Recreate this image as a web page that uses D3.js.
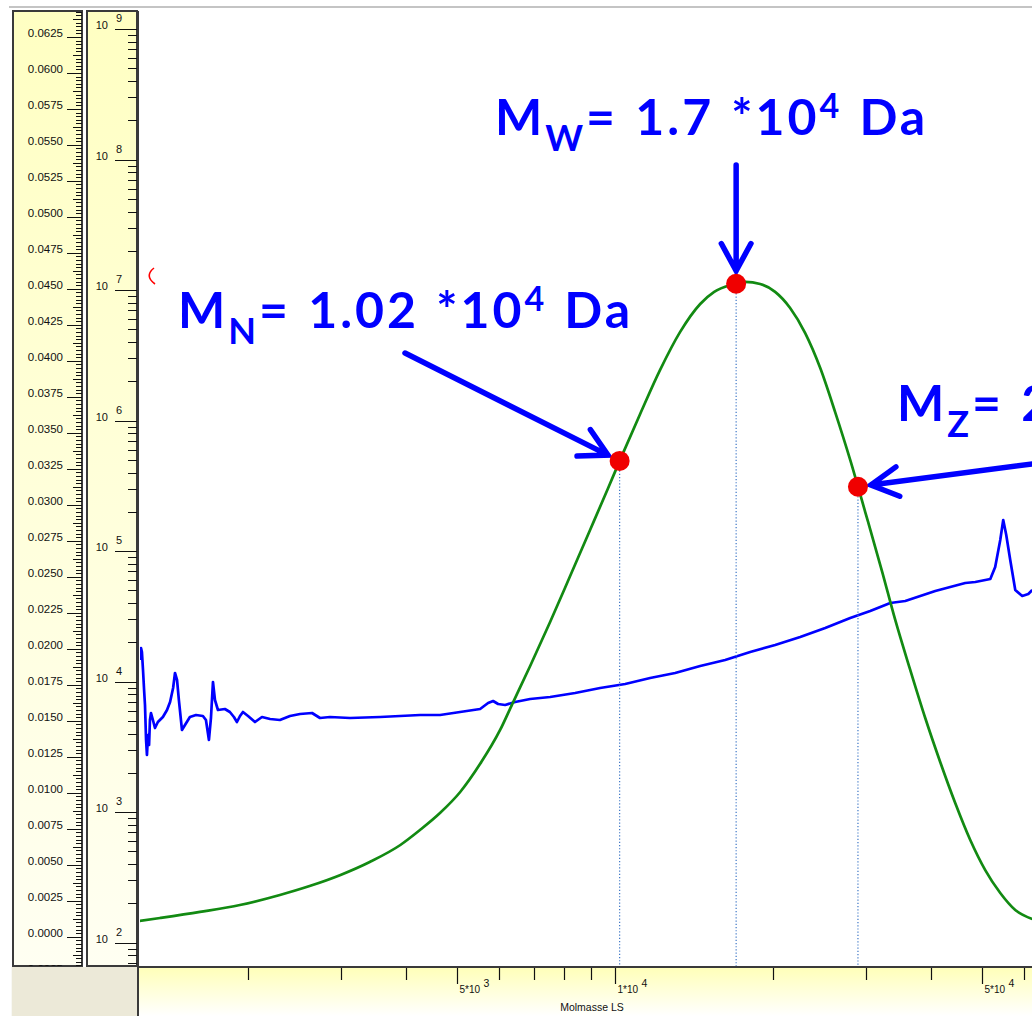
<!DOCTYPE html>
<html>
<head>
<meta charset="utf-8">
<script src="https://cdn.jsdelivr.net/npm/d3@7"></script>
<style>
  html, body { margin: 0; padding: 0; background: #fff; }
  svg { display: block; }
</style>
</head>
<body>
<svg id="chart" width="1032" height="1016"></svg>
<script>
// ---- distribution curve (green): molar mass [Da] vs. weight fraction ----
const distMass = [1240, 1360, 1620, 1930, 2300, 2620, 3000, 3410, 3900, 4250, 4640, 5070, 5530, 6040, 6370,
  6890, 7520, 8210, 8960, 9700, 10220, 11160, 12180, 13300, 14520, 15440, 16560, 17690,
  18890, 20170, 21540, 23010, 24580, 26240, 28030, 29940, 32260, 34150, 36470, 38950, 41590, 44420,
  47450, 50670, 54120, 57800, 62270];
const distFraction = [0.00109, 0.00130, 0.00172, 0.00220, 0.00290, 0.00352, 0.00429, 0.00519, 0.00637,
  0.00741, 0.00859, 0.01005, 0.01199, 0.01436, 0.01616, 0.01880, 0.02186, 0.02505, 0.02825, 0.03117,
  0.03312, 0.03631, 0.03937, 0.04201, 0.04395, 0.04479, 0.04527, 0.04548,
  0.04534, 0.04479, 0.04367, 0.04193, 0.03950, 0.03644, 0.03312, 0.02950, 0.02533, 0.02200, 0.01853,
  0.01519, 0.01214, 0.00929, 0.00672, 0.00463, 0.00304, 0.00186, 0.00123];

// ---- light-scattering molar mass trace (blue) ----
const lsMass = [1245, 1251, 1256, 1262, 1268, 1273, 1279, 1284, 1290, 1296, 1301, 1307, 1318, 1330, 1347,
  1377, 1402, 1421, 1440, 1452, 1465, 1477, 1497, 1517, 1550, 1592, 1641, 1663, 1685, 1700, 1715, 1730,
  1753, 1807, 1847, 1880, 1905, 1931, 1956, 2000, 2062, 2126, 2203, 2300, 2404, 2512, 2648, 2742, 2865,
  3128, 3568, 3895, 4253, 4642, 5067, 5533, 5730, 5857, 5987, 6174, 6450, 6890, 7520, 8391, 9364, 10450,
  11660, 13010, 14520, 16200, 18080, 20170, 22510, 25120, 28030, 30600, 33410, 35680, 38110, 40700,
  43460, 46420, 48510, 51810, 52930, 54120, 54830, 55560, 56540, 57800, 59600, 61200, 62270];
const lsMolarMass = [14670, 18130, 16890, 12290, 8640, 6630, 3576, 2744, 3905, 3273, 5087, 5758, 5087, 4418,
  4911, 5364, 6070, 6990, 8946, 11660, 10310, 7240, 4266, 4659, 5364, 5557, 5460, 5087, 3576, 5271, 9950,
  7240, 6070, 6178, 5859, 5364, 4911, 5460, 5859, 5460, 4911, 5364, 5178, 5087, 5460, 5655, 5758, 5271,
  5364, 5271, 5364, 5460, 5557, 5557, 5859, 6178, 6866, 7114, 6746, 6630, 6990, 7369, 7635, 8194, 8946,
  9603, 10680, 11660, 13190, 14670, 16890, 19110, 22000, 25790, 30760, 34820, 40110, 41530, 45360,
  49550, 53180, 57060, 58070, 61240, 75680, 121900, 173400, 133100, 85620, 50430, 45360, 46990, 50430];

// ---- molar mass averages ----
const avgNames = ["N", "W", "Z"];
const avgValues = [1.02e4, 1.7e4, 2.9e4];

// ---- axis ticks ----
const massTicks = [2000, 3000, 4000, 5000, 6000, 7000, 8000, 9000, 10000, 20000, 30000, 40000, 50000, 60000];
const massTickLabels = [5000, 10000, 50000];
const logDecades = [1, 2, 3, 4, 5, 6, 7, 8, 9];
const xAxisTitle = "Molmasse LS";

// ---- layout ----
const W = 1032, H = 1016;
const plot = { left: 139, right: 1032, top: 10, bottom: 966 };
const svg = d3.select("#chart");
const FONT_SMALL = "'Liberation Sans', Arial, sans-serif";
const FONT_NOTE = "Lato, 'Open Sans', sans-serif";

const x = d3.scaleLog().domain([1240, 62200]).range([plot.left, plot.right]);
const yFrac = d3.scaleLinear().domain([-0.002035, 0.06437]).range([plot.bottom, plot.top]);
const yLog = d3.scaleLog().domain([66.3, 1.403e9]).range([plot.bottom, plot.top]);

const defs = svg.append("defs");
const gv = defs.append("linearGradient").attr("id", "panelV").attr("x1", 0).attr("y1", 0).attr("x2", 0).attr("y2", 1);
gv.append("stop").attr("offset", 0).attr("stop-color", "#ffffc2");
gv.append("stop").attr("offset", 1).attr("stop-color", "#fffff2");
const gb = defs.append("linearGradient").attr("id", "panelB").attr("x1", 0).attr("y1", 0).attr("x2", 0).attr("y2", 1);
gb.append("stop").attr("offset", 0).attr("stop-color", "#ffffb8");
gb.append("stop").attr("offset", 1).attr("stop-color", "#ffffff");
defs.append("clipPath").attr("id", "clipPlot").append("rect")
  .attr("x", plot.left + 1).attr("y", plot.top).attr("width", plot.right - plot.left).attr("height", plot.bottom - plot.top);
defs.append("clipPath").attr("id", "clipLeft").append("rect")
  .attr("x", 13).attr("y", 11).attr("width", 70).attr("height", 955);
defs.append("clipPath").attr("id", "clipLog").append("rect")
  .attr("x", 87).attr("y", 11).attr("width", 50).attr("height", 955);

// window chrome
svg.append("rect").attr("width", W).attr("height", H).attr("fill", "#fff");
svg.append("line").attr("x1", 9).attr("x2", W).attr("y1", 7).attr("y2", 7)
  .attr("stroke", "#c4c4c4").attr("stroke-width", 2);
svg.append("rect").attr("x", 11).attr("y", 967).attr("width", 127).attr("height", 49).attr("fill", "#ece9d8");
svg.append("line").attr("x1", 11.5).attr("x2", 11.5).attr("y1", 967).attr("y2", H).attr("stroke", "#f8f8f4");

// ---- left linear axis panel (weight fraction) ----
const leftG = svg.append("g");
leftG.append("rect").attr("x", 13).attr("y", 11).attr("width", 69).attr("height", 955)
  .attr("fill", "url(#panelV)").attr("stroke", "#3a3a3a").attr("stroke-width", 2);
const leftTicks = leftG.append("g").attr("clip-path", "url(#clipLeft)");
d3.range(-10, 259).forEach(k => {
  const v = k * 0.00025;
  const yy = Math.round(yFrac(v)) + 0.5;
  const major = k % 10 === 0, mid = k % 5 === 0;
  leftTicks.append("line")
    .attr("x1", major ? 67 : (mid ? 73 : 76)).attr("x2", 82)
    .attr("y1", yy).attr("y2", yy).attr("stroke", "#111").attr("stroke-width", 1);
  if (major) {
    leftTicks.append("text").attr("x", 63).attr("y", yy - 0.5)
      .attr("text-anchor", "end").attr("font-family", FONT_SMALL).attr("font-size", 11.5)
      .attr("fill", "#111").text(d3.format(".4f")(v));
  }
});

// ---- log axis panel (molar mass) ----
const logG = svg.append("g");
logG.append("rect").attr("x", 87).attr("y", 11).attr("width", 50).attr("height", 955)
  .attr("fill", "url(#panelV)").attr("stroke", "#3a3a3a").attr("stroke-width", 2);
const logTicks = logG.append("g").attr("clip-path", "url(#clipLog)");
logDecades.forEach(d => {
  d3.range(1, 10).forEach(k => {
    const v = k * Math.pow(10, d);
    const yy = Math.round(yLog(v)) + 0.5;
    if (yy < 11 || yy > 966) return;
    logTicks.append("line")
      .attr("x1", k === 1 ? 115 : 128).attr("x2", 137)
      .attr("y1", yy).attr("y2", yy).attr("stroke", "#111").attr("stroke-width", 1);
    if (k === 1) {
      logTicks.append("text").attr("x", 108).attr("y", yy - 1)
        .attr("text-anchor", "end").attr("font-family", FONT_SMALL).attr("font-size", 11)
        .attr("fill", "#111").text("10");
      logTicks.append("text").attr("x", 116).attr("y", yy - 8)
        .attr("font-family", FONT_SMALL).attr("font-size", 11)
        .attr("fill", "#111").text(d);
    }
  });
});

// ---- bottom axis panel ----
const botG = svg.append("g");
botG.append("rect").attr("x", plot.left).attr("y", 967).attr("width", W - plot.left).attr("height", H - 967)
  .attr("fill", "url(#panelB)");
botG.append("line").attr("x1", plot.left).attr("x2", W).attr("y1", 967).attr("y2", 967)
  .attr("stroke", "#3a3a3a").attr("stroke-width", 2);
botG.append("line").attr("x1", 138).attr("x2", 138).attr("y1", 11).attr("y2", H)
  .attr("stroke", "#3a3a3a").attr("stroke-width", 2);
massTicks.forEach(m => {
  const xx = Math.round(x(m)) + 0.5;
  const labelled = massTickLabels.includes(m);
  botG.append("line").attr("x1", xx).attr("x2", xx).attr("y1", 968).attr("y2", labelled ? 984 : 980)
    .attr("stroke", "#111").attr("stroke-width", 1.2);
  if (labelled) {
    const e = Math.floor(Math.log10(m));
    const mant = Math.round(m / Math.pow(10, e));
    botG.append("text").attr("x", xx + 2).attr("y", 993)
      .attr("font-family", FONT_SMALL).attr("font-size", 10).attr("fill", "#111")
      .text(mant + "*10");
    botG.append("text").attr("x", xx + 26).attr("y", 987)
      .attr("font-family", FONT_SMALL).attr("font-size", 10.5).attr("fill", "#111")
      .text(e);
  }
});
botG.append("text").attr("x", 592).attr("y", 1011).attr("text-anchor", "middle")
  .attr("font-family", FONT_SMALL).attr("font-size", 10.5).attr("fill", "#111").text(xAxisTitle);

// ---- curves ----
const curveG = svg.append("g").attr("clip-path", "url(#clipPlot)");
const lsLine = d3.line().x(d => x(d[0])).y(d => yLog(d[1]));
curveG.append("path").datum(d3.zip(lsMass, lsMolarMass))
  .attr("d", lsLine).attr("fill", "none").attr("stroke", "#0000ff")
  .attr("stroke-width", 2.7).attr("stroke-linejoin", "round");
const distLine = d3.line().x(d => x(d[0])).y(d => yFrac(d[1])).curve(d3.curveMonotoneX);
curveG.append("path").datum(d3.zip(distMass, distFraction))
  .attr("d", distLine).attr("fill", "none").attr("stroke", "#128a12")
  .attr("stroke-width", 2.7);

// small cursor mark at the left edge
svg.append("path").attr("d", "M154,268 Q144,276 155,284").attr("fill", "none")
  .attr("stroke", "#ff0000").attr("stroke-width", 1.6);

// ---- averages: dotted drop lines, markers, arrows and labels ----
function distAt(m) {
  const i = Math.max(1, Math.min(distMass.length - 1, d3.bisectLeft(distMass, m)));
  const m0 = distMass[i - 1], m1 = distMass[i];
  const t = (Math.log(m) - Math.log(m0)) / (Math.log(m1) - Math.log(m0));
  return distFraction[i - 1] + t * (distFraction[i] - distFraction[i - 1]);
}
const avgPoints = avgValues.map((v, i) => ({ name: avgNames[i], value: v, px: x(v), py: yFrac(distAt(v)) }));

const noteG = svg.append("g");
noteG.selectAll("line.drop").data(avgPoints).join("line").attr("class", "drop")
  .attr("x1", d => d.px).attr("x2", d => d.px).attr("y1", d => d.py).attr("y2", plot.bottom)
  .attr("stroke", "#3d76c6").attr("stroke-width", 1.2).attr("stroke-dasharray", "1.2,2");

// label anchors and arrow tails (annotation layout)
const labelAt = [[178, 328], [495, 135], [897, 421]];
const arrowTail = [[405, 353], [null, 165], [1062, 460]];
const BLUE = "#0000ff";

avgPoints.forEach((d, i) => {
  const [tx0, ty0] = arrowTail[i];
  const sx = tx0 === null ? d.px : tx0, sy = ty0;
  const ang = Math.atan2(d.py - sy, d.px - sx);
  const tipX = d.px - 13 * Math.cos(ang), tipY = d.py - 13 * Math.sin(ang);
  const L = 31, a = Math.PI / 6.3;
  const p = d3.path();
  p.moveTo(sx, sy); p.lineTo(tipX, tipY);
  p.moveTo(tipX - L * Math.cos(ang - a), tipY - L * Math.sin(ang - a));
  p.lineTo(tipX, tipY);
  p.lineTo(tipX - L * Math.cos(ang + a), tipY - L * Math.sin(ang + a));
  noteG.append("path").attr("d", p.toString()).attr("fill", "none").attr("stroke", BLUE)
    .attr("stroke-width", 5.5).attr("stroke-linecap", "round").attr("stroke-linejoin", "miter");

  const e = Math.floor(Math.log10(d.value));
  const mant = +(d.value / Math.pow(10, e)).toFixed(2);
  const t = noteG.append("text").attr("x", labelAt[i][0]).attr("y", labelAt[i][1])
    .attr("font-family", FONT_NOTE).attr("font-weight", 700).attr("font-size", 50)
    .attr("letter-spacing", 3).attr("word-spacing", 2).attr("fill", BLUE);
  t.append("tspan").text("M");
  t.append("tspan").attr("dy", 16).attr("font-size", 36).text(d.name);
  t.append("tspan").attr("dy", -16).text("= " + mant + " *10");
  t.append("tspan").attr("dy", -17).attr("font-size", 34).text(e);
  t.append("tspan").attr("dy", 17).text(" Da");
});

svg.selectAll("circle.avg").data(avgPoints).join("circle").attr("class", "avg")
  .attr("cx", d => d.px).attr("cy", d => d.py).attr("r", 10).attr("fill", "#f00000");
</script>
</body>
</html>
